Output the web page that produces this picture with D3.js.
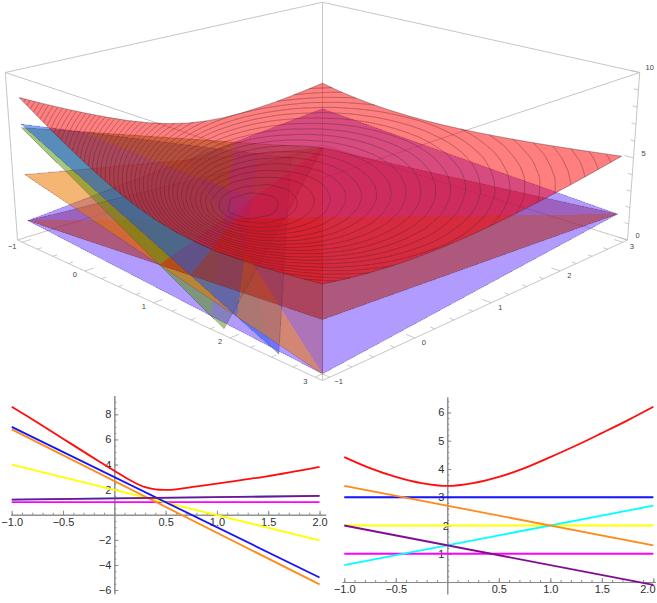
<!DOCTYPE html>
<html>
<head>
<meta charset="utf-8">
<script src="https://cdn.jsdelivr.net/npm/d3@7"></script>
<style>
  html, body { margin: 0; background: #fff; overflow: hidden; }
  text { font-family: "Liberation Sans", sans-serif; }
  .tick text { fill: #2e2e2e; font-size: 11px; }
  .domain, .tick line { stroke: #8a8a8a; }
</style>
</head>
<body>
<svg id="chart" width="657" height="603"></svg>
<script>
// Tick labels for the 3D box and the two slices
const boxTicks = [-1, 0, 1, 2, 3];
const boxZTicks = [0, 5, 10];
const sliceXTicks = [-1, -0.5, 0.5, 1, 1.5, 2];
const leftYTicks = [-6, -4, -2, 2, 4, 6, 8];
const rightYTicks = [1, 2, 3, 4, 5, 6];

// Height of the curved surface at each grid node (rows a, columns b)
const gridAxis = [-1, -0.75, -0.5, -0.25, 0, 0.25, 0.5, 0.75, 1, 1.25, 1.5, 1.75, 2, 2.25, 2.5, 2.75, 3];
const surfaceZ = [
  8.55, 7.90, 7.27, 6.67, 6.10, 5.57, 5.11, 4.72, 4.42, 4.22, 4.11, 4.08, 4.12, 4.19, 4.31, 4.44, 4.60,
  7.90, 7.24, 6.60, 5.98, 5.40, 4.87, 4.41, 4.05, 3.80, 3.66, 3.63, 3.66, 3.75, 3.88, 4.03, 4.20, 4.38,
  7.27, 6.60, 5.94, 5.31, 4.72, 4.18, 3.73, 3.41, 3.23, 3.18, 3.22, 3.33, 3.47, 3.64, 3.82, 4.01, 4.22,
  6.67, 5.98, 5.31, 4.66, 4.05, 3.51, 3.08, 2.83, 2.76, 2.80, 2.92, 3.08, 3.27, 3.46, 3.67, 3.88, 4.10,
  6.10, 5.40, 4.72, 4.05, 3.42, 2.88, 2.51, 2.38, 2.42, 2.56, 2.73, 2.93, 3.14, 3.35, 3.57, 3.80, 4.02,
  5.57, 4.87, 4.18, 3.51, 2.88, 2.37, 2.12, 2.13, 2.26, 2.44, 2.65, 2.86, 3.08, 3.30, 3.53, 3.76, 3.99,
  5.11, 4.41, 3.73, 3.08, 2.51, 2.12, 2.01, 2.08, 2.24, 2.43, 2.64, 2.86, 3.08, 3.30, 3.53, 3.76, 3.98,
  4.72, 4.05, 3.41, 2.83, 2.38, 2.13, 2.08, 2.17, 2.32, 2.50, 2.70, 2.91, 3.12, 3.34, 3.56, 3.79, 4.01,
  4.42, 3.80, 3.23, 2.76, 2.42, 2.26, 2.24, 2.32, 2.45, 2.62, 2.80, 3.00, 3.20, 3.41, 3.63, 3.85, 4.07,
  4.22, 3.66, 3.18, 2.80, 2.56, 2.44, 2.43, 2.50, 2.62, 2.76, 2.93, 3.12, 3.31, 3.51, 3.72, 3.93, 4.15,
  4.11, 3.63, 3.22, 2.92, 2.73, 2.65, 2.64, 2.70, 2.80, 2.93, 3.09, 3.26, 3.44, 3.64, 3.83, 4.04, 4.25,
  4.08, 3.66, 3.33, 3.08, 2.93, 2.86, 2.86, 2.91, 3.00, 3.12, 3.26, 3.42, 3.59, 3.77, 3.96, 4.16, 4.36,
  4.12, 3.75, 3.47, 3.27, 3.14, 3.08, 3.08, 3.12, 3.20, 3.31, 3.44, 3.59, 3.75, 3.93, 4.11, 4.30, 4.49,
  4.19, 3.88, 3.64, 3.46, 3.35, 3.30, 3.30, 3.34, 3.41, 3.51, 3.64, 3.77, 3.93, 4.09, 4.26, 4.44, 4.63,
  4.31, 4.03, 3.82, 3.67, 3.57, 3.53, 3.53, 3.56, 3.63, 3.72, 3.83, 3.96, 4.11, 4.26, 4.43, 4.60, 4.78,
  4.44, 4.20, 4.01, 3.88, 3.80, 3.76, 3.76, 3.79, 3.85, 3.93, 4.04, 4.16, 4.30, 4.44, 4.60, 4.76, 4.94,
  4.60, 4.38, 4.22, 4.10, 4.02, 3.99, 3.98, 4.01, 4.07, 4.15, 4.25, 4.36, 4.49, 4.63, 4.78, 4.94, 5.10
];

// The flat sheets: height at three corners of the (a, b) square, clipped at z = 0
const sheetNames = ["lavender", "rose", "orange", "green", "blue"];
const sheetAtLeft = [1.2, 1.2, 4, 6.8, 7];     // a = -1, b = -1
const sheetAtFront = [0, 2.8, 0, -2.8, -1];    // a = 3, b = -1
const sheetAtBack = [2.8, 0, 0, 0, -1];        // a = -1, b = 3
const sheetColors = ["#6539ff", "#ac1800", "#ed7600", "#4b9100", "#0c54f5"];
const sheetOpacity = [0.5, 0.5, 0.55, 0.5, 0.5];

// Slices: x positions and values of each curve
const lineT = [-1, 2];
const leftRedT = [-1, -0.75, -0.5, -0.25, 0, 0.1, 0.2, 0.3, 0.4, 0.5, 0.6, 0.75, 1, 1.25, 1.5, 2];
const leftRed = [8.6, 7.35, 6.06, 4.77, 3.5, 3.0, 2.55, 2.2, 2.02, 1.98, 2.02, 2.2, 2.47, 2.77, 3.08, 3.82];
const leftBlue = [7, -5];
const leftOrange = [6.8, -5.55];
const leftYellow = [4, -2.05];
const leftCyan = [1.2, 1.5];
const leftMagenta = [1, 1];
const leftPurple = [1.2, 1.5];
const rightRedT = [-1, -0.75, -0.5, -0.25, 0, 0.25, 0.5, 0.75, 1, 1.25, 1.5, 1.75, 2];
const rightRed = [4.42, 4.03, 3.72, 3.5, 3.4, 3.5, 3.72, 4.03, 4.42, 4.83, 5.27, 5.72, 6.2];
const rightBlue = [3, 3];
const rightOrange = [3.4, 1.3];
const rightYellow = [2, 2];
const rightCyan = [0.6, 2.7];
const rightMagenta = [1, 1];
const rightPurple = [2, -0.1];

const svg = d3.select("#chart");
const defs = svg.append("defs");
defs.append("filter").attr("id", "soft").attr("filterUnits", "userSpaceOnUse")
  .attr("x", 0).attr("y", 0).attr("width", 657).attr("height", 603)
  .append("feGaussianBlur").attr("stdDeviation", 0.4);

// Camera for the box, fitted to the box corners in the picture
const boxA = d3.scaleLinear().domain([-1.08, 3.08]).range([0, 1]);
const boxZ = d3.scaleLinear().domain([0, 10]).range([0, 1]);
const cam = { cx: 322.5, sx: 305, y0: 240, yd: 67.1, yw: -170.3, pd: -0.193, pw: -0.0386 };

function project(a, b, z) {
  const u = boxA(a), v = boxA(b), w = boxZ(z);
  const s = u + v - 1, d = u - v;
  const depth = 1 + cam.pd * d + cam.pw * w;
  return [cam.cx + cam.sx * s / depth, (cam.y0 + cam.yd * d + cam.yw * w) / depth];
}

// Where the eye sits in data space (needed for back to front ordering)
const eyeD = (1 + cam.pw * cam.y0 / -cam.yw) / -(cam.pd + cam.pw * cam.yd / -cam.yw);
const eyeW = (cam.y0 + cam.yd * eyeD) / -cam.yw;
const eye = [boxA.invert((eyeD + 1) / 2), boxA.invert((1 - eyeD) / 2), boxZ.invert(eyeW)];

const polyLine = d3.line();
const toPath = pts => polyLine(pts.map(p => project(p[0], p[1], p[2]))) + "Z";

// Box edges go first, the sheets and the surface are seen on top of them
const box3d = svg.append("g").attr("stroke", "#c6c6c6").attr("stroke-width", 1).attr("fill", "none");
const lo = boxA.domain()[0], hi = boxA.domain()[1], zLo = boxZ.domain()[0], zHi = boxZ.domain()[1];
[[lo, lo], [hi, lo], [hi, hi], [lo, hi]].forEach((c, i, all) => {
  const n = all[(i + 1) % 4];
  box3d.append("path").attr("d", polyLine([project(c[0], c[1], zLo), project(c[0], c[1], zHi)]));
  box3d.append("path").attr("d", polyLine([project(c[0], c[1], zLo), project(n[0], n[1], zLo)]));
  box3d.append("path").attr("d", polyLine([project(c[0], c[1], zHi), project(n[0], n[1], zHi)]));
});

// Sheet polygons, clipped at the floor
const sheets = sheetNames.map((name, i) => {
  const ca = (sheetAtFront[i] - sheetAtLeft[i]) / 4;
  const cb = (sheetAtBack[i] - sheetAtLeft[i]) / 4;
  const c0 = sheetAtLeft[i] + ca + cb;
  const height = (a, b) => c0 + ca * a + cb * b;
  const corners = [[-1, -1], [3, -1], [3, 3], [-1, 3]].map(p => [p[0], p[1], height(p[0], p[1])]);
  const pts = [];
  corners.forEach((p, j) => {
    const q = corners[(j + 1) % 4];
    if (p[2] >= 0) pts.push(p);
    if ((p[2] > 0 && q[2] < 0) || (p[2] < 0 && q[2] > 0)) {
      const t = p[2] / (p[2] - q[2]);
      pts.push([p[0] + t * (q[0] - p[0]), p[1] + t * (q[1] - p[1]), 0]);
    }
  });
  return { index: i, height, pts };
});

// Small BSP tree so sheets that cut through each other blend in the right order
const side = (sheet, p) => p[2] - sheet.height(p[0], p[1]);

function splitPoly(poly, sheet) {
  const front = [], back = [];
  poly.pts.forEach((p, j) => {
    const q = poly.pts[(j + 1) % poly.pts.length];
    const fp = side(sheet, p), fq = side(sheet, q);
    if (fp >= -1e-9) front.push(p);
    if (fp <= 1e-9) back.push(p);
    if ((fp > 1e-9 && fq < -1e-9) || (fp < -1e-9 && fq > 1e-9)) {
      const t = fp / (fp - fq);
      const m = [p[0] + t * (q[0] - p[0]), p[1] + t * (q[1] - p[1]), p[2] + t * (q[2] - p[2])];
      front.push(m);
      back.push(m);
    }
  });
  return {
    front: front.length > 2 ? { ...poly, pts: front } : null,
    back: back.length > 2 ? { ...poly, pts: back } : null
  };
}

function buildTree(list) {
  if (!list.length) return null;
  const first = list[0], front = [], back = [];
  list.slice(1).forEach(poly => {
    const parts = splitPoly(poly, first);
    if (parts.front) front.push(parts.front);
    if (parts.back) back.push(parts.back);
  });
  return { poly: first, sheet: sheets[first.index], front: buildTree(front), back: buildTree(back) };
}

function backToFront(node, out) {
  if (!node) return out;
  const eyeAbove = side(node.sheet, eye) > 0;
  backToFront(eyeAbove ? node.back : node.front, out);
  out.push(node.poly);
  backToFront(eyeAbove ? node.front : node.back, out);
  return out;
}

const pieces = backToFront(buildTree(sheets), []);

const marks3d = svg.append("g").attr("filter", "url(#soft)");
marks3d.append("g").attr("shape-rendering", "crispEdges")
  .selectAll("path").data(pieces).enter().append("path")
  .attr("d", d => toPath(d.pts))
  .attr("fill", d => sheetColors[d.index])
  .attr("fill-opacity", d => sheetOpacity[d.index]);

marks3d.append("g").selectAll("path").data(sheets).enter().append("path")
  .attr("d", d => toPath(d.pts))
  .attr("fill", "none")
  .attr("stroke", "#3c2a4a")
  .attr("stroke-opacity", 0.4)
  .attr("stroke-width", 0.6);

// Curved surface lies above every sheet, so it is painted last in one piece
const n = gridAxis.length;
const zAt = (r, c) => surfaceZ[r * n + c];
const rim = [];
d3.range(n).forEach(c => rim.push([gridAxis[0], gridAxis[c], zAt(0, c)]));
d3.range(1, n).forEach(r => rim.push([gridAxis[r], gridAxis[n - 1], zAt(r, n - 1)]));
d3.range(n - 2, -1, -1).forEach(c => rim.push([gridAxis[n - 1], gridAxis[c], zAt(n - 1, c)]));
d3.range(n - 2, 0, -1).forEach(r => rim.push([gridAxis[r], gridAxis[0], zAt(r, 0)]));

marks3d.append("path")
  .attr("d", toPath(rim))
  .attr("fill", "#ff0000")
  .attr("fill-opacity", 0.5)
  .attr("stroke", "#3c1c1c")
  .attr("stroke-opacity", 0.6)
  .attr("stroke-width", 0.6);

// Contour rings: d3.contours works on lattice coordinates, node i sits at i + 0.5
const gridScale = d3.scaleLinear().domain([0, n - 1]).range([-1, 3]);
const contourLevels = d3.range(2.13, 8.6, 0.13);
const toScreen = (p, z) => project(gridScale(p[1]), gridScale(p[0]), z);

d3.contours().size([n, n]).smooth(true).thresholds(contourLevels)(surfaceZ).forEach(geo => {
  geo.coordinates.forEach(polygon => polygon.forEach(ring => {
    const pts = ring.slice(0, -1).map(p => [
      Math.max(0, Math.min(n - 1, p[0] - 0.5)),
      Math.max(0, Math.min(n - 1, p[1] - 0.5))
    ]);
    // a step that runs along the rim of the grid is not part of the contour
    const alongRim = (p, q) => (p[0] === q[0] && (p[0] === 0 || p[0] === n - 1))
      || (p[1] === q[1] && (p[1] === 0 || p[1] === n - 1));
    const breaks = pts.map((p, i) => alongRim(p, pts[(i + 1) % pts.length]));
    const drawRun = (run, closed) => {
      marks3d.append("path")
        .attr("d", d3.line().curve(closed ? d3.curveCatmullRomClosed : d3.curveCatmullRom)(run.map(p => toScreen(p, geo.value))))
        .attr("fill", "none")
        .attr("stroke", "#40202a")
        .attr("stroke-opacity", 0.55)
        .attr("stroke-width", 0.65);
    };
    const start = breaks.indexOf(true);
    if (start < 0) { drawRun(pts, true); return; }
    let run = [];
    pts.forEach((_, k) => {
      const i = (start + 1 + k) % pts.length;
      run.push(pts[i]);
      if (breaks[i]) {
        if (run.length > 1) drawRun(run, false);
        run = [];
      }
    });
  }));
});

// Ticks and labels on the bottom edges and the right vertical edge
const ticks3d = svg.append("g").attr("stroke", "#b4b4b4").attr("stroke-width", 0.7);
const label3d = svg.append("g").attr("fill", "#444").attr("font-size", 7.5).attr("text-anchor", "middle");
d3.range(-1, 3.01, 0.25).forEach(t => {
  const len = Number.isInteger(t) ? 0.1 : 0.05;
  ticks3d.append("path").attr("d", polyLine([project(t, lo, zLo), project(t, lo + len, zLo)]));
  ticks3d.append("path").attr("d", polyLine([project(hi, t, zLo), project(hi - len, t, zLo)]));
});
d3.range(0, 10.01, 1).forEach(t => {
  const len = t % 5 === 0 ? 0.1 : 0.05;
  ticks3d.append("path").attr("d", polyLine([project(hi, hi, t), project(hi - len, hi, t)]));
});
boxTicks.forEach(t => {
  const p = project(t, lo, zLo), q = project(hi, t, zLo);
  label3d.append("text").attr("x", p[0] - 10).attr("y", p[1] + 6.5).text(d3.format("d")(t));
  label3d.append("text").attr("x", q[0] + 9).attr("y", q[1] + 7).text(d3.format("d")(t));
});
boxZTicks.forEach(t => {
  const p = project(hi, hi, t);
  label3d.append("text").attr("x", p[0] + 10).attr("y", p[1] - 2).text(t);
});

// Two flat slices below the box
function drawSlice(opts) {
  const x = d3.scaleLinear().domain(opts.xDomain).range(opts.xRange);
  const y = d3.scaleLinear().domain(opts.yDomain).range(opts.yRange);
  const g = svg.append("g");

  // minor ticks first, then the labelled ones
  g.append("g").attr("transform", `translate(0,${y(0)})`)
    .call(d3.axisBottom(x).tickValues(d3.range(-1, 2.01, 0.1)).tickSize(-2).tickSizeOuter(0).tickFormat(""));
  g.append("g").attr("transform", `translate(0,${y(0)})`)
    .call(d3.axisBottom(x).tickValues(sliceXTicks).tickSize(-4).tickSizeOuter(0).tickPadding(opts.xPad).tickFormat(d3.format(".1f")));
  g.append("g").attr("transform", `translate(${x(0)},0)`)
    .call(d3.axisLeft(y).tickValues(opts.yMinor).tickSize(-2).tickSizeOuter(0).tickFormat(""));
  g.append("g").attr("transform", `translate(${x(0)},0)`)
    .call(d3.axisLeft(y).tickValues(opts.yTicks).tickSize(-4).tickSizeOuter(0).tickPadding(opts.yPad).tickFormat(d3.format("d")));
  g.selectAll(".tick text").attr("font-family", null);

  // the last label of the right slice would run off the page
  g.selectAll(".tick text").filter(function () { return +this.parentNode.__data__ === 2 && opts.xRange[1] > 650; })
    .attr("text-anchor", "end").attr("x", 655 - x(2));

  const line = d3.line().x(d => x(d[0])).y(d => y(d[1]));
  const curves = g.append("g").attr("filter", "url(#soft)");
  opts.series.forEach(s => {
    curves.append("path")
      .datum(s.t.map((t, i) => [t, s.v[i]]))
      .attr("fill", "none")
      .attr("stroke", s.color)
      .attr("stroke-width", 1.8)
      .attr("stroke-linejoin", "round")
      .attr("d", s.t.length > 2 ? line.curve(d3.curveCatmullRom) : line.curve(d3.curveLinear));
  });
}

drawSlice({
  xDomain: [-1.01, 2.06], xRange: [10.7, 325.7],
  yDomain: [-6.3, 9.5], yRange: [593.8, 395.5],
  yTicks: leftYTicks, yMinor: d3.range(-6, 9.01, 0.5),
  xPad: 3, yPad: 3,
  series: [
    { t: lineT, v: leftCyan, color: "#00ffff" },
    { t: lineT, v: leftMagenta, color: "#ff00ff" },
    { t: lineT, v: leftYellow, color: "#ffff00" },
    { t: lineT, v: leftOrange, color: "#ff8a1a" },
    { t: lineT, v: leftBlue, color: "#1414f5" },
    { t: lineT, v: leftPurple, color: "#800a90" },
    { t: leftRedT, v: leftRed, color: "#ff0a0a" }
  ]
});

drawSlice({
  xDomain: [-1.02, 2.02], xRange: [342.2, 655.4],
  yDomain: [-0.42, 6.55], yRange: [593.9, 396.9],
  yTicks: rightYTicks, yMinor: d3.range(0, 6.41, 0.2),
  xPad: 3, yPad: 3,
  series: [
    { t: lineT, v: rightMagenta, color: "#ff00ff" },
    { t: lineT, v: rightYellow, color: "#ffff00" },
    { t: lineT, v: rightCyan, color: "#00ffff" },
    { t: lineT, v: rightBlue, color: "#1414f5" },
    { t: lineT, v: rightOrange, color: "#ff8a1a" },
    { t: lineT, v: rightPurple, color: "#800a90" },
    { t: rightRedT, v: rightRed, color: "#ff0a0a" }
  ]
});
</script>
</body>
</html>
